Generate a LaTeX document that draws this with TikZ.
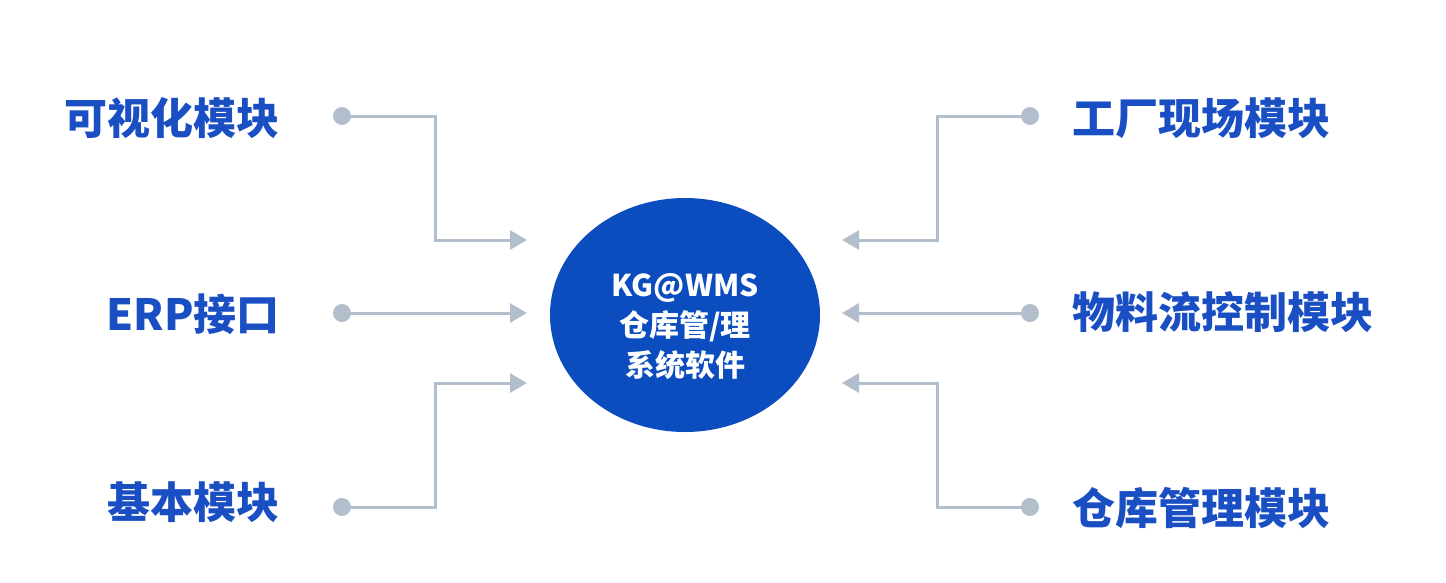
\documentclass[tikz,border=0pt]{standalone}
\usepackage{fontspec}
\newfontfamily\cjk{Noto Sans CJK SC}
\usetikzlibrary{arrows.meta,shapes.geometric}
\definecolor{lineblue}{HTML}{B2BECC}
\definecolor{textblue}{HTML}{1A4FC4}
\definecolor{coreblue}{HTML}{0B4CBE}
\begin{document}
\begin{tikzpicture}[x=1pt,y=-1pt,
  lab/.style={font=\cjk\bfseries\fontsize{43}{47}\selectfont, text=textblue, inner sep=0pt},
  dot/.style={circle, fill=lineblue, minimum size=18pt, inner sep=0pt},
  conn/.style={draw=lineblue, line width=3pt, -{Triangle[length=17pt,width=19pt]}},
  core/.style={ellipse, fill=coreblue, minimum width=270pt, minimum height=234pt, inner sep=0pt},
  coretext/.style={text=white, align=center, inner sep=0pt, font=\cjk\bfseries\fontsize{30}{40}\selectfont}]
\useasboundingbox (0,0) rectangle (1446,582);
% centre
\node[core] (c) at (685,315) {};
\node[coretext] (ct) at (685,327) {KG@WMS\\仓库管/理\\系统软件};
% target coordinates
\coordinate (tl) at (527,240);
\coordinate (ml) at (527,313);
\coordinate (bl) at (527,383);
\coordinate (tr) at (842,240);
\coordinate (mr) at (842,313);
\coordinate (br) at (842,383);
% dots
\node[dot] (d1) at (342,116) {};
\node[dot] (d2) at (342,313) {};
\node[dot] (d3) at (342,507) {};
\node[dot] (d4) at (1030,116) {};
\node[dot] (d5) at (1030,313) {};
\node[dot] (d6) at (1030,507) {};
% labels
\node[lab, anchor=east] (l1) at (280,118) {可视化模块};
\node[lab, anchor=east] (l2) at (280,314) {ERP接口};
\node[lab, anchor=east] (l3) at (280,502) {基本模块};
\node[lab, anchor=west] (r1) at (1072,118) {工厂现场模块};
\node[lab, anchor=west] (r2) at (1072,312) {物料流控制模块};
\node[lab, anchor=west] (r3) at (1072,508) {仓库管理模块};
% connectors
\draw[conn] (d1.center) -- (435,116) -- (435,240) -- (tl);
\draw[conn] (d2.center) -- (ml);
\draw[conn] (d3.center) -- (435,507) -- (435,383) -- (bl);
\draw[conn] (d4.center) -- (937,116) -- (937,240) -- (tr);
\draw[conn] (d5.center) -- (mr);
\draw[conn] (d6.center) -- (937,507) -- (937,383) -- (br);
\end{tikzpicture}
\end{document}
